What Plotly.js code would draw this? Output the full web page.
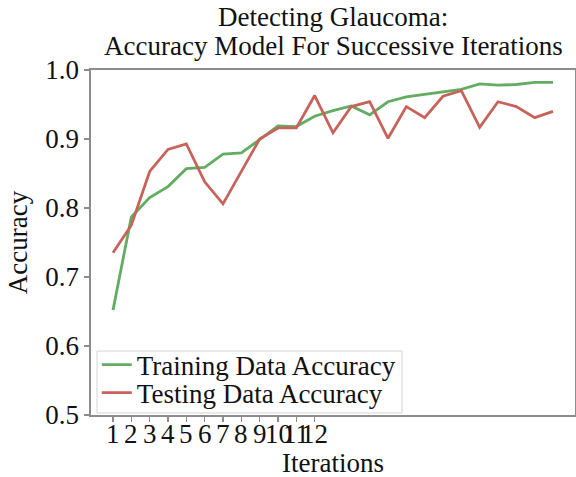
<!DOCTYPE html>
<html>
<head>
<meta charset="utf-8">
<script src="https://cdn.plot.ly/plotly-3.0.1.min.js"></script>
<style>html,body{margin:0;padding:0;background:#fff}#chart{width:576px;height:477px}</style>
</head>
<body>
<div id="chart"></div>
<script>
const iterations = [1,2,3,4,5,6,7,8,9,10,11,12,13,14,15,16,17,18,19,20,21,22,23,24,25];
const trainingAccuracy = [0.652,0.787,0.815,0.831,0.857,0.859,0.878,0.880,0.899,0.919,0.918,0.933,0.941,0.948,0.935,0.954,0.961,0.965,0.968,0.972,0.980,0.978,0.979,0.982,0.982];
const testingAccuracy = [0.735,0.775,0.853,0.885,0.893,0.838,0.806,0.853,0.900,0.916,0.916,0.963,0.909,0.947,0.954,0.901,0.947,0.931,0.962,0.970,0.917,0.954,0.947,0.931,0.940];
const xTickVals = [1,2,3,4,5,6,7,8,9,10,11,12];
const xTickText = ['1','2','3','4','5','6','7','8','9','10','11','12'];
const yTickVals = [0.5,0.6,0.7,0.8,0.9,1.0];
const yTickText = ['0.5','0.6','0.7','0.8','0.9','1.0'];
const titleLines = ['Detecting Glaucoma:', 'Accuracy Model For Successive Iterations'];
const xTitle = 'Iterations';
const yTitle = 'Accuracy';

const FONT = 'Liberation Serif, Times New Roman, serif';
const FS = 27;
const textFont = {family: FONT, size: FS, color: '#111'};
const traces = [
  {x: iterations, y: trainingAccuracy, type: 'scatter', mode: 'lines', name: 'Training Data Accuracy',
   line: {color: '#62ad62', width: 2.8}, legend: 'legend'},
  {x: iterations, y: testingAccuracy, type: 'scatter', mode: 'lines', name: 'Testing Data Accuracy',
   line: {color: '#c7635a', width: 2.8}, legend: 'legend2'}
];
const axisCommon = {
  showline: true, mirror: true, linecolor: '#8c8c8c', linewidth: 1.6,
  showgrid: false, zeroline: false, automargin: false,
  ticks: 'outside', ticklen: 5, tickwidth: 1.2, tickcolor: '#8c8c8c',
  tickfont: textFont
};
const legendCommon = {x: 0.012, xanchor: 'left', yanchor: 'middle',
  bgcolor: 'rgba(0,0,0,0)', borderwidth: 0, font: textFont, itemwidth: 30};

const annotations = [];
xTickVals.forEach((v, i) => annotations.push({
  text: xTickText[i], x: v, xref: 'x', y: -0.055, yref: 'paper', borderpad: 0,
  xanchor: 'center', yanchor: 'middle', showarrow: false, font: textFont}));
annotations.push({text: xTitle, x: 0.5, xref: 'paper', y: -0.14, yref: 'paper', borderpad: 0,
  xanchor: 'center', yanchor: 'middle', showarrow: false, font: textFont});
annotations.push({text: titleLines[0], x: 0.5, xref: 'paper', y: 1.155, yref: 'paper', borderpad: 0,
  xanchor: 'center', yanchor: 'middle', showarrow: false, font: textFont});
annotations.push({text: titleLines[1], x: 0.5, xref: 'paper', y: 1.07, yref: 'paper', borderpad: 0,
  xanchor: 'center', yanchor: 'middle', showarrow: false, font: textFont});

const layout = {
  width: 576, height: 477,
  margin: {l: 91, r: 1, t: 70, b: 62},
  paper_bgcolor: '#fff', plot_bgcolor: '#fff',
  font: {family: FONT, color: '#111'},
  xaxis: Object.assign({}, axisCommon, {
    range: [-0.2, 26.2], tickvals: xTickVals, ticktext: xTickText, showticklabels: false
  }),
  yaxis: Object.assign({}, axisCommon, {
    range: [0.5, 1.0], tickvals: yTickVals, ticktext: yTickText,
    title: {text: yTitle, font: textFont, standoff: 10}
  }),
  showlegend: true,
  legend: Object.assign({}, legendCommon, {y: 0.145}),
  legend2: Object.assign({}, legendCommon, {y: 0.0638}),
  shapes: [{type: 'rect', xref: 'paper', yref: 'paper', x0: 0.0124, x1: 0.6426, y0: 0.0058, y1: 0.1855,
            line: {color: '#d4d4d4', width: 1}, fillcolor: 'rgba(255,255,255,0.8)', layer: 'above'}],
  annotations: annotations
};
Plotly.newPlot('chart', traces, layout, {staticPlot: true, displayModeBar: false});
</script>
</body>
</html>
